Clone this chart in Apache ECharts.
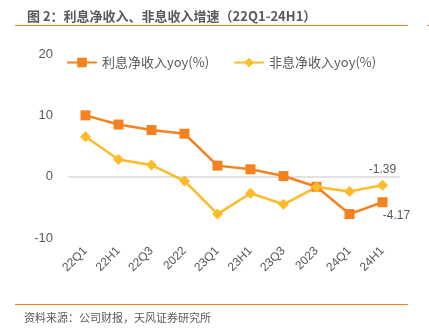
<!DOCTYPE html>
<html><head><meta charset="utf-8">
<script src="https://cdn.jsdelivr.net/npm/echarts@6/dist/echarts.min.js"></script>
<style>html,body{margin:0;padding:0;background:#fff}#c{width:429px;height:334px}</style>
</head><body><div id="c"></div>
<script>
const categories = ['22Q1','22H1','22Q3','2022','23Q1','23H1','23Q3','2023','24Q1','24H1'];
const interestNet = [10.0, 8.5, 7.6, 7.0, 1.8, 1.2, 0.1, -1.65, -6.1, -4.17];
const nonInterest = [6.5, 2.8, 1.9, -0.7, -6.1, -2.7, -4.5, -1.7, -2.4, -1.39];
const seriesNames = ['利息净收入yoy(%)', '非息净收入yoy(%)'];
const yTicks = [-10, 0, 10, 20];
const titleText = '图 2：利息净收入、非息收入增速（22Q1-24H1）';
const sourceText = '资料来源：公司财报，天风证券研究所';

const ORANGE = '#F5821F', YELLOW = '#FDBB2A', GRAY = '#595959';
const chart = echarts.init(document.getElementById('c'));
const lastIdx = categories.length - 1;
chart.setOption({
  animation: false,
  title: {text: titleText, left: 22, top: 5,
    textStyle: {fontSize: 13, fontWeight: 'bold', color: GRAY, fontFamily: 'Noto Sans CJK SC'}},
  graphic: [
    {type: 'line', shape: {x1: 15, y1: 25.5, x2: 408, y2: 25.5}, style: {stroke: ORANGE, lineWidth: 1.2}},
    {type: 'line', shape: {x1: 427, y1: 25.5, x2: 429, y2: 25.5}, style: {stroke: ORANGE, lineWidth: 1.2}},
    {type: 'line', shape: {x1: 15, y1: 304.5, x2: 408, y2: 304.5}, style: {stroke: ORANGE, lineWidth: 1.2}},
    {type: 'text', left: 24, top: 312, style: {text: sourceText, fill: GRAY, fontSize: 11, fontFamily: 'Noto Sans CJK SC'}}
  ],
  legend: {top: 51, left: 61, itemGap: 24, itemWidth: 30, itemHeight: 12,
    textStyle: {fontSize: 13, color: GRAY, fontFamily: 'Noto Sans CJK SC'},
    data: seriesNames},
  grid: {left: 69, right: 30, top: 54, bottom: 96},
  xAxis: {type: 'category', data: categories, boundaryGap: true,
    axisLine: {onZero: true, lineStyle: {color: '#d9d9d9', width: 1.5}},
    axisTick: {show: false},
    axisLabel: {rotate: 45, color: GRAY, fontSize: 12, margin: 11, fontFamily: 'Liberation Sans', interval: 0}},
  yAxis: {type: 'value', min: yTicks[0], max: yTicks[yTicks.length-1], interval: 10,
    axisLine: {show: false}, axisTick: {show: false}, splitLine: {show: false},
    axisLabel: {color: GRAY, fontSize: 13, margin: 16, fontFamily: 'Liberation Sans'}},
  series: [
    {name: seriesNames[0], type: 'line', data: interestNet.map((v, i) => i === lastIdx ? {value: v, label: {show: true, position: 'bottom', offset: [14, -3]}} : v),
      symbol: 'rect', symbolSize: 10, itemStyle: {color: ORANGE}, lineStyle: {color: ORANGE, width: 2.5},
      label: {show: false, color: GRAY, fontSize: 12, fontFamily: 'Liberation Sans', formatter: p => p.value.toFixed(2)}},
    {name: seriesNames[1], type: 'line', data: nonInterest.map((v, i) => i === lastIdx ? {value: v, label: {show: true, position: 'top', offset: [0, 1]}} : v),
      symbol: 'diamond', symbolSize: 11, itemStyle: {color: YELLOW}, lineStyle: {color: YELLOW, width: 2.5},
      label: {show: false, color: GRAY, fontSize: 12, fontFamily: 'Liberation Sans', formatter: p => p.value.toFixed(2)}}
  ]
});
</script></body></html>
